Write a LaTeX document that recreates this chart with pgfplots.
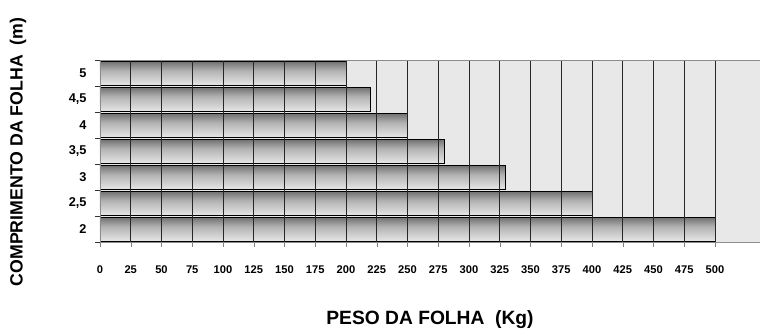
\documentclass[border=0pt]{standalone}
\usepackage{pgfplots}
\pgfplotsset{compat=1.18}
\usepackage{fontspec}
\setmainfont{Liberation Sans}

% cylinder-like shading of the bars (stops from bottom to top)
\pgfdeclareverticalshading{barshade}{100bp}{
  color(0bp)=(black!55);
  color(22bp)=(black!8);
  color(55bp)=(black!30);
  color(85bp)=(black!70);
  color(100bp)=(black!95)}

\pgfplotsset{
    % one plot per bar, so that each bar gets its own shading
    style-bar/.style={draw=black, line width=0.9pt, shade, shading=barshade, bar shift=0pt},
}

\begin{document}
\begin{tikzpicture}
\begin{axis}[
    at={(0,0)}, anchor=south west,
    scale only axis,
    width=660bp, height=182bp,
    xbar, bar width=0.92,
    xmin=0, xmax=536.6,
    ymin=-0.5, ymax=6.5,
    axis on top,
    axis background/.style={fill=black!9},
    axis line style={black!45},
    % x ticks
    xtick={0,25,...,500},
    xtick pos=bottom,
    xtick align=outside,
    major tick length=5bp,
    xmajorgrids,
    major grid style={black!85, line width=0.6pt},
    xticklabel style={font=\bfseries\fontsize{11.2}{12}\selectfont, yshift=-15bp},
    /pgf/number format/assume math mode=true,
    % y ticks: labels at bar centres, tick marks at band edges
    ytick={0,...,6},
    yticklabels={2,{2,5},3,{3,5},4,{4,5},5},
    ytick pos=left,
    ytick style={draw=none},
    yticklabel style={font=\bfseries\fontsize{12.8}{14}\selectfont, xshift=-5bp},
    extra y ticks={-0.5,0.5,...,6.5},
    extra y tick labels={},
    extra y tick style={ytick style={draw=black!80, line width=0.6pt}, tick align=outside, grid=none},
    xlabel={PESO DA FOLHA\ \ (Kg)},
    xlabel style={font=\bfseries\fontsize{19.3}{22}\selectfont, at={(axis description cs:0.5,0)}, anchor=center, yshift=-78bp},
    ylabel={COMPRIMENTO DA FOLHA\ \ (m)},
    ylabel style={font=\bfseries\fontsize{17.8}{20}\selectfont, at={(axis description cs:0,0.495)}, anchor=center, yshift=82bp},
]
% length 2 ... 5 m at positions 0 ... 6
\addplot[style-bar] coordinates {(500,0)};
\addplot[style-bar] coordinates {(400,1)};
\addplot[style-bar] coordinates {(330,2)};
\addplot[style-bar] coordinates {(280,3)};
\addplot[style-bar] coordinates {(250,4)};
\addplot[style-bar] coordinates {(220,5)};
\addplot[style-bar] coordinates {(200,6)};
\end{axis}
\pgfresetboundingbox
\useasboundingbox (-100bp,-92bp) rectangle (660bp,242bp);
\end{tikzpicture}
\end{document}
